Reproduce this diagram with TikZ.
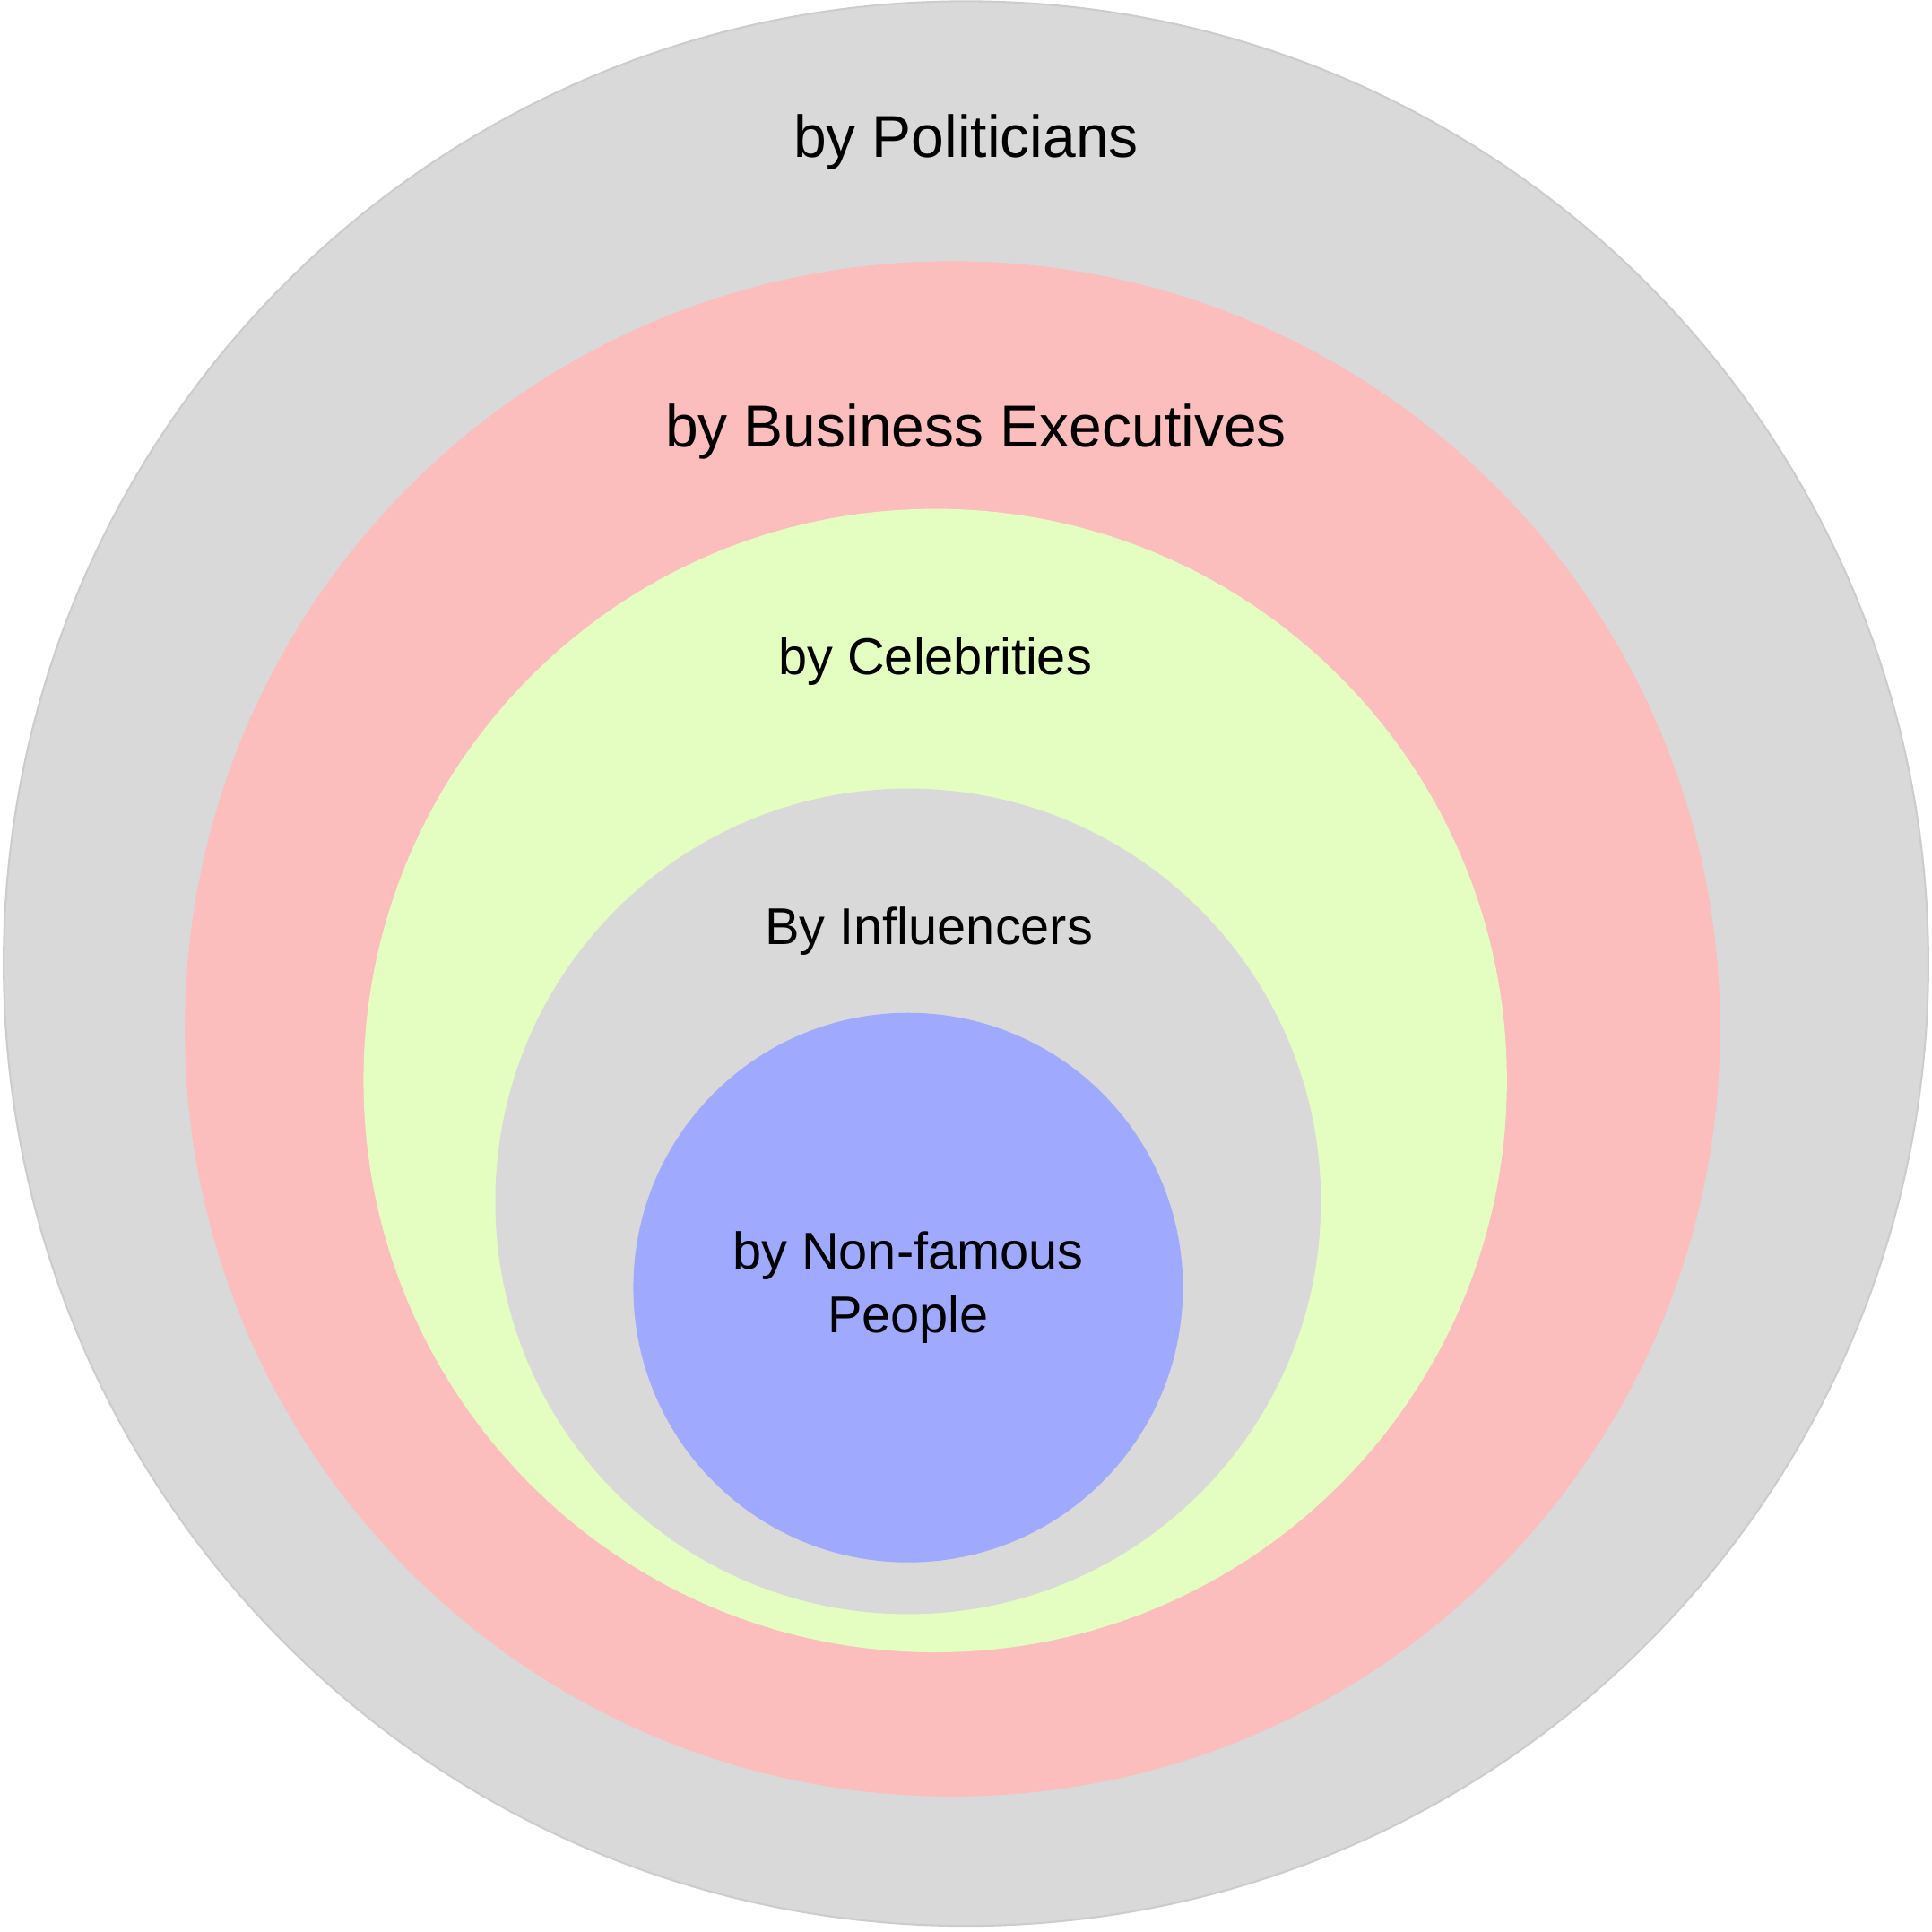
\documentclass[tikz,border=0pt]{standalone}
\usepackage{fontspec}
\setmainfont{Liberation Sans}
\definecolor{ringgray}{HTML}{D9D9D9}
\definecolor{ringpink}{HTML}{FCBDBD}
\definecolor{ringgreen}{HTML}{E4FDC1}
\definecolor{ringblue}{HTML}{9FA9FE}
\tikzset{every picture/.style={line width=0.75pt},
  ringlabel/.style={inner sep=0.75pt,align=center,font=\fontsize{24}{29}\selectfont},
  smalllabel/.style={ringlabel,font=\fontsize{21}{26}\selectfont}}
\begin{document}
\begin{tikzpicture}[x=0.5pt,y=0.5pt,yscale=-1,xscale=1]
    \useasboundingbox (0,0) rectangle (1568,1568);
    %Shape: Circle [outer]
    \draw [color=black!20, fill=ringgray] (784,782) circle (781);
    %Shape: Circle [pink]
    \fill [ringpink] (773,835) circle (623);
    %Shape: Circle [green]
    \fill [ringgreen] (759,877) circle (464);
    %Shape: Circle [inner gray]
    \fill [ringgray] (737,975) circle (335);
    %Shape: Circle [blue]
    \fill [ringblue] (737,1045) circle (223);

    % Text Node
    \node [ringlabel] (politicians) at (784,115) {by Politicians};
    % Text Node
    \node [ringlabel] (business) at (792,350) {by Business Executives};
    % Text Node
    \node [smalllabel] (celebrities) at (759,537) {by Celebrities};
    % Text Node
    \node [smalllabel] (influencers) at (754,756) {By Influencers};
    % Text Node
    \node [smalllabel] (nonfamous) at (737,1045) {by Non-famous\\People};
\end{tikzpicture}
\end{document}
